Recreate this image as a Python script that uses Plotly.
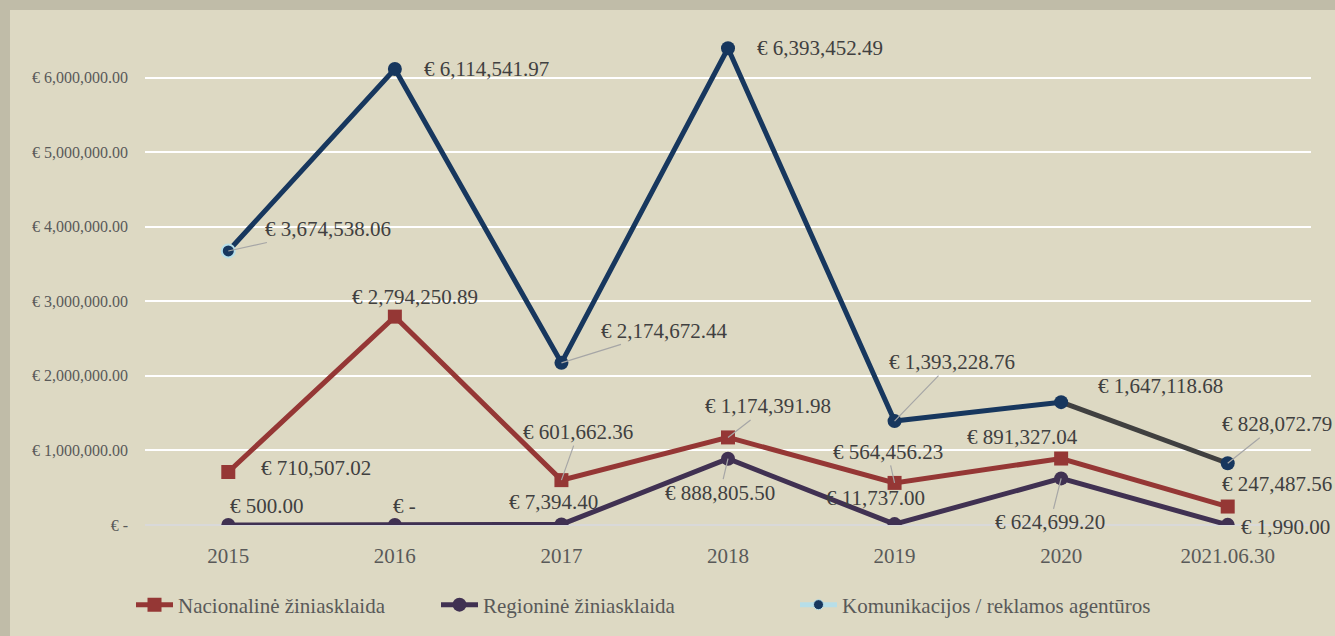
import plotly.graph_objects as go

categories = ["2015", "2016", "2017", "2018", "2019", "2020", "2021.06.30"]
nacionaline = [710507.02, 2794250.89, 601662.36, 1174391.98, 564456.23, 891327.04, 247487.56]
regionine = [500.00, 0.00, 7394.40, 888805.50, 11737.00, 624699.20, 1990.00]
komunikacijos = [3674538.06, 6114541.97, 2174672.44, 6393452.49, 1393228.76, 1647118.68, 828072.79]
y_tickvals = [0, 1000000, 2000000, 3000000, 4000000, 5000000, 6000000]
y_ticktext = ["€ -", "€ 1,000,000.00", "€ 2,000,000.00", "€ 3,000,000.00",
              "€ 4,000,000.00", "€ 5,000,000.00", "€ 6,000,000.00"]
series_names = ["Nacionalinė žiniasklaida", "Regioninė žiniasklaida", "Komunikacijos / reklamos agentūros"]

# label offsets (pixels) and whether a leader line is shown
off_nac = [(88, -4, 0), (20, -20, 0), (17, -48, 1), (40, -31, 1), (-7, -31, 1), (-39, -22, 0), (49, -23, 0)]
off_reg = [(39, -19, 0), (10, -19, 0), (-8, -22, 0), (-8, 34, 1), (-19, -26, 0), (-11, 44, 1), (58, 2, 0)]
off_kom = [(100, -22, 1), (92, 0, 0), (103, -32, 1), (92, 0, 0), (57, -59, 1), (99, -16, 0), (49, -39, 1)]

RED = "#953735"
PURPLE = "#403152"
NAVY = "#17375E"
DARKGRAY = "#404040"
LIGHTBLUE = "#B7DEE8"
BG = "#DDD9C3"
BORDER = "#C0BCA8"
FONT = "Liberation Serif"


def fmt(v):
    return "€ -" if v == 0 else f"€ {v:,.2f}"


fig = go.Figure()

fig.add_trace(go.Scatter(
    x=categories, y=nacionaline, mode="lines+markers", name=series_names[0],
    line=dict(color=RED, width=5),
    marker=dict(symbol="square", size=14, color=RED), legend="legend",
))
fig.add_trace(go.Scatter(
    x=categories, y=regionine, mode="lines+markers", name=series_names[1],
    line=dict(color=PURPLE, width=5),
    marker=dict(symbol="circle", size=14, color=PURPLE), legend="legend2",
))
# Komunikacijos: navy line with the last segment in dark gray
fig.add_trace(go.Scatter(
    x=categories[:-1], y=komunikacijos[:-1], mode="lines", showlegend=False,
    line=dict(color=NAVY, width=5), hoverinfo="skip",
))
fig.add_trace(go.Scatter(
    x=categories[-2:], y=komunikacijos[-2:], mode="lines", showlegend=False,
    line=dict(color=DARKGRAY, width=5), hoverinfo="skip",
))
fig.add_trace(go.Scatter(
    x=categories, y=komunikacijos, mode="markers", showlegend=False, name=series_names[2],
    marker=dict(symbol="circle", size=[13] + [14] * 6, color=NAVY, opacity=1,
                line=dict(color=[LIGHTBLUE] + [NAVY] * 6, width=[2] + [0] * 6)),
))
# legend entry for Komunikacijos
fig.add_trace(go.Scatter(
    x=[None], y=[None], mode="lines+markers", name=series_names[2],
    line=dict(color=LIGHTBLUE, width=5),
    marker=dict(symbol="circle", size=10, color=NAVY, opacity=1, line=dict(color=LIGHTBLUE, width=1)),
    legend="legend3",
))

annotations = []
for vals, offs in ((nacionaline, off_nac), (regionine, off_reg), (komunikacijos, off_kom)):
    for i, (v, (ax, ay, lead)) in enumerate(zip(vals, offs)):
        annotations.append(dict(
            x=i, y=v, xref="x", yref="y", text=fmt(v),
            showarrow=True, ax=ax, ay=ay, axref="pixel", ayref="pixel",
            arrowhead=0, arrowwidth=1.2, standoff=0,
            arrowcolor="#A6A6A6" if lead else "rgba(0,0,0,0)",
            font=dict(family=FONT, size=21, color="#404040"),
        ))

W, H = 1335, 636
L, R, T, B = 145, 24, 3, 111
pw, ph = W - L - R, H - T - B


def px_x(p):
    return (p - L) / pw


def px_y(p):
    return (H - B - p) / ph


shapes = [
    dict(type="rect", xref="paper", yref="paper", x0=px_x(0), x1=px_x(W), y0=px_y(10), y1=px_y(0),
         fillcolor=BORDER, line=dict(width=0), layer="below"),
    dict(type="rect", xref="paper", yref="paper", x0=px_x(0), x1=px_x(10), y0=px_y(H), y1=px_y(0),
         fillcolor=BORDER, line=dict(width=0), layer="below"),
]

legend_common = dict(orientation="h", xanchor="left", y=px_y(605), yanchor="middle",
                     font=dict(family=FONT, size=21, color="#595959"), bgcolor="rgba(0,0,0,0)",
                     itemwidth=37)

fig.update_layout(
    width=W, height=H,
    margin=dict(l=L, r=R, t=T, b=B),
    paper_bgcolor=BG, plot_bgcolor="rgba(0,0,0,0)",
    font=dict(family=FONT, color="#595959"),
    showlegend=True,
    legend=dict(x=px_x(131), **legend_common),
    legend2=dict(x=px_x(436), **legend_common),
    legend3=dict(x=px_x(795), **legend_common),
    annotations=annotations,
    shapes=shapes,
    hovermode=False,
)
fig.update_xaxes(type="category", range=[-0.5, 6.5], showgrid=False, showline=False, zeroline=False,
                 tickfont=dict(family=FONT, size=21, color="#595959"), ticklabelstandoff=16)
fig.update_yaxes(range=[0, 7000000], tickvals=y_tickvals, ticktext=y_ticktext,
                 showgrid=True, gridcolor="#FFFFFF", gridwidth=1.5,
                 zeroline=True, zerolinecolor="#D9D9D9", zerolinewidth=1.5,
                 showline=False, tickfont=dict(family=FONT, size=16, color="#595959"),
                 ticklabelstandoff=16)

fig.write_html("out.html")
